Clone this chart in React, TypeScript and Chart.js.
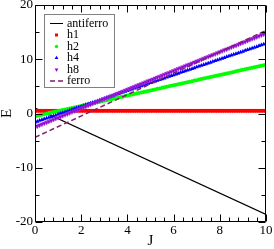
import React, { useEffect, useRef } from "react";
import { Chart, registerables } from "chart.js";

Chart.register(...registerables);

const J = [0,0.1,0.2,0.3,0.4,0.5,0.6,0.7,0.8,0.9,1,1.1,1.2,1.3,1.4,1.5,1.6,1.7,1.8,1.9,2,2.1,2.2,2.3,2.4,2.5,2.6,2.7,2.8,2.9,3,3.1,3.2,3.3,3.4,3.5,3.6,3.7,3.8,3.9,4,4.1,4.2,4.3,4.4,4.5,4.6,4.7,4.8,4.9,5,5.1,5.2,5.3,5.4,5.5,5.6,5.7,5.8,5.9,6,6.1,6.2,6.3,6.4,6.5,6.6,6.7,6.8,6.9,7,7.1,7.2,7.3,7.4,7.5,7.6,7.7,7.8,7.9,8,8.1,8.2,8.3,8.4,8.5,8.6,8.7,8.8,8.9,9,9.1,9.2,9.3,9.4,9.5,9.6,9.7,9.8,9.9,10];

const h1 = [0.5,0.5,0.5,0.5,0.5,0.5,0.5,0.5,0.5,0.5,0.5,0.5,0.5,0.5,0.5,0.5,0.5,0.5,0.5,0.5,0.5,0.5,0.5,0.5,0.5,0.5,0.5,0.5,0.5,0.5,0.5,0.5,0.5,0.5,0.5,0.5,0.5,0.5,0.5,0.5,0.5,0.5,0.5,0.5,0.5,0.5,0.5,0.5,0.5,0.5,0.5,0.5,0.5,0.5,0.5,0.5,0.5,0.5,0.5,0.5,0.5,0.5,0.5,0.5,0.5,0.5,0.5,0.5,0.5,0.5,0.5,0.5,0.5,0.5,0.5,0.5,0.5,0.5,0.5,0.5,0.5,0.5,0.5,0.5,0.5,0.5,0.5,0.5,0.5,0.5,0.5,0.5,0.5,0.5,0.5,0.5,0.5,0.5,0.5,0.5,0.5];

const h2 = [-0.5,-0.41,-0.31,-0.22,-0.12,-0.03,0.07,0.17,0.26,0.36,0.45,0.55,0.64,0.74,0.83,0.93,1.02,1.12,1.21,1.31,1.4,1.5,1.59,1.69,1.78,1.88,1.97,2.07,2.16,2.26,2.35,2.45,2.54,2.64,2.73,2.83,2.92,3.02,3.11,3.21,3.3,3.4,3.49,3.59,3.68,3.78,3.87,3.97,4.06,4.16,4.25,4.35,4.44,4.54,4.63,4.73,4.82,4.92,5.01,5.11,5.2,5.3,5.39,5.49,5.58,5.68,5.77,5.87,5.96,6.06,6.15,6.25,6.34,6.44,6.53,6.63,6.72,6.82,6.91,7.01,7.1,7.2,7.29,7.39,7.48,7.58,7.67,7.77,7.86,7.96,8.05,8.15,8.24,8.34,8.43,8.53,8.62,8.72,8.81,8.91,9.0];

const h4 = [-1.6,-1.46,-1.31,-1.17,-1.02,-0.88,-0.73,-0.59,-0.44,-0.3,-0.15,-0.01,0.14,0.29,0.43,0.58,0.72,0.87,1.01,1.16,1.3,1.45,1.59,1.74,1.88,2.03,2.17,2.32,2.46,2.61,2.75,2.9,3.04,3.19,3.33,3.48,3.62,3.77,3.91,4.06,4.2,4.35,4.49,4.64,4.78,4.93,5.07,5.22,5.36,5.51,5.65,5.8,5.94,6.09,6.23,6.38,6.52,6.67,6.81,6.96,7.1,7.25,7.39,7.54,7.68,7.83,7.97,8.12,8.26,8.41,8.55,8.7,8.84,8.99,9.13,9.28,9.42,9.57,9.71,9.86,10.0,10.15,10.29,10.44,10.58,10.73,10.87,11.02,11.16,11.31,11.45,11.6,11.74,11.89,12.03,12.18,12.32,12.47,12.61,12.76,12.9];

const h8 = [-2.5,-2.33,-2.15,-1.98,-1.81,-1.64,-1.46,-1.29,-1.12,-0.94,-0.77,-0.6,-0.42,-0.25,-0.08,0.1,0.27,0.44,0.61,0.79,0.96,1.13,1.31,1.48,1.65,1.83,2.0,2.17,2.34,2.52,2.69,2.86,3.04,3.21,3.38,3.56,3.73,3.9,4.07,4.25,4.42,4.59,4.77,4.94,5.11,5.29,5.46,5.63,5.8,5.98,6.15,6.32,6.5,6.67,6.84,7.02,7.19,7.36,7.53,7.71,7.88,8.05,8.23,8.4,8.57,8.75,8.92,9.09,9.26,9.44,9.61,9.78,9.96,10.13,10.3,10.48,10.65,10.82,10.99,11.17,11.34,11.51,11.69,11.86,12.03,12.21,12.38,12.55,12.72,12.9,13.07,13.24,13.42,13.59,13.76,13.94,14.11,14.28,14.45,14.63,14.8];

const antiferroJ = [0, 10];
const antiferroE = [1.0, -18.6];
const ferroJ = [0, 10];
const ferroE = [-4.4, 15.3];

const xTicks = [0, 2, 4, 6, 8, 10];
const yTicks = [-20, -10, 0, 10, 20];
const xMinorStep = 0.4;
const yMinorStep = 5;

const legendLabels = ["antiferro", "h1", "h2", "h4", "h8", "ferro"];

const SERIF = '"Liberation Serif", "DejaVu Serif", serif';
const C_RED = "#ff0000";
const C_GREEN = "#00ff00";
const C_BLUE = "#0000ff";
const C_VIOLET = "#9400d3";
const C_VIOLET_EDGE = "rgba(160, 60, 220, 0.55)";
const C_FERRO = "#80206e";

const pts = (xs: number[], ys: number[]) => xs.map((x, i) => ({ x, y: ys[i] }));

const framePlugin = {
  id: "frameTicks",
  afterDatasetsDraw(chart: any) {
    const { ctx, chartArea: a } = chart;
    const xs = chart.scales.x;
    const ys = chart.scales.y;
    const L = Math.round(a.left) + 0.5;
    const R = Math.round(a.right) - 0.5;
    const T = Math.round(a.top) + 0.5;
    const B = Math.round(a.bottom) - 0.5;
    const major = 7;
    const minor = 4;
    ctx.save();
    ctx.strokeStyle = "#000";
    ctx.lineWidth = 1;
    ctx.beginPath();
    const nx = Math.round((xs.max - xs.min) / xMinorStep);
    for (let i = 0; i <= nx; i++) {
      const v = xs.min + i * xMinorStep;
      const px = Math.round(xs.getPixelForValue(v)) + 0.5;
      const len = xTicks.some((t) => Math.abs(t - v) < 1e-6) ? major : minor;
      ctx.moveTo(px, B);
      ctx.lineTo(px, B - len);
      ctx.moveTo(px, T);
      ctx.lineTo(px, T + len);
    }
    const ny = Math.round((ys.max - ys.min) / yMinorStep);
    for (let i = 0; i <= ny; i++) {
      const v = ys.min + i * yMinorStep;
      const py = Math.round(ys.getPixelForValue(v)) + 0.5;
      const len = yTicks.some((t) => Math.abs(t - v) < 1e-6) ? major : minor;
      ctx.moveTo(L, py);
      ctx.lineTo(L + len, py);
      ctx.moveTo(R, py);
      ctx.lineTo(R - len, py);
    }
    ctx.rect(L, T, R - L, B - T);
    ctx.stroke();
    ctx.restore();
  },
  afterDraw(chart: any) {
    const { ctx } = chart;
    const bx = 44.5, by = 14.5, bw = 70, bh = 73;
    ctx.save();
    ctx.fillStyle = "#fff";
    ctx.fillRect(bx, by, bw, bh);
    ctx.strokeStyle = "#808080";
    ctx.lineWidth = 1;
    ctx.strokeRect(bx, by, bw, bh);
    const x0 = 50, x1 = 63, xm = 56.5, tx = 67;
    ctx.font = "12px " + SERIF;
    ctx.textBaseline = "middle";
    ctx.textAlign = "left";
    legendLabels.forEach((lab, i) => {
      const y = 23.5 + i * 11.5;
      ctx.save();
      if (i === 0) {
        ctx.strokeStyle = "#000";
        ctx.lineWidth = 1;
        ctx.beginPath();
        ctx.moveTo(x0, y);
        ctx.lineTo(x1, y);
        ctx.stroke();
      } else if (i === 5) {
        ctx.strokeStyle = C_FERRO;
        ctx.lineWidth = 1.5;
        ctx.setLineDash([5, 3]);
        ctx.beginPath();
        ctx.moveTo(x0, y);
        ctx.lineTo(x1 + 1, y);
        ctx.stroke();
      } else if (i === 1) {
        ctx.fillStyle = C_RED;
        ctx.fillRect(xm - 1.5, y - 1.5, 3, 3);
      } else if (i === 2) {
        ctx.fillStyle = C_GREEN;
        ctx.beginPath();
        ctx.arc(xm, y, 1.7, 0, Math.PI * 2);
        ctx.fill();
      } else if (i === 3) {
        ctx.fillStyle = C_BLUE;
        ctx.beginPath();
        ctx.moveTo(xm, y - 2.2);
        ctx.lineTo(xm + 1.9, y + 1.1);
        ctx.lineTo(xm - 1.9, y + 1.1);
        ctx.closePath();
        ctx.fill();
      } else if (i === 4) {
        ctx.fillStyle = C_VIOLET;
        ctx.beginPath();
        ctx.moveTo(xm, y + 2.2);
        ctx.lineTo(xm + 1.9, y - 1.1);
        ctx.lineTo(xm - 1.9, y - 1.1);
        ctx.closePath();
        ctx.fill();
      }
      ctx.restore();
      ctx.fillStyle = "#000";
      ctx.fillText(lab, tx, y);
    });
    ctx.restore();
  },
};

export default function App() {
  const ref = useRef<HTMLCanvasElement | null>(null);

  useEffect(() => {
    if (!ref.current) return;
    const chart = new Chart(ref.current, {
      type: "line",
      data: {
        datasets: [
          {
            label: "antiferro",
            data: pts(antiferroJ, antiferroE),
            borderColor: "#000",
            borderWidth: 1.2,
            pointRadius: 0,
            fill: false,
            order: 5,
          },
          {
            label: "h1",
            data: pts(J, h1),
            showLine: false,
            pointStyle: "rect",
            pointRadius: 2.6,
            pointBorderWidth: 0,
            pointBackgroundColor: C_RED,
            borderColor: C_RED,
            order: 4,
          },
          {
            label: "h2",
            data: pts(J, h2),
            showLine: false,
            pointStyle: "circle",
            pointRadius: 2,
            pointBorderWidth: 0,
            pointBackgroundColor: C_GREEN,
            borderColor: C_GREEN,
            order: 3,
          },
          {
            label: "h4",
            data: pts(J, h4),
            showLine: false,
            pointStyle: "triangle",
            pointRadius: 2.5,
            pointBorderWidth: 0,
            pointBackgroundColor: C_BLUE,
            borderColor: C_BLUE,
            order: 2,
          },
          {
            label: "h8",
            data: pts(J, h8),
            showLine: false,
            pointStyle: "triangle",
            pointRotation: 180,
            pointRadius: 2.5,
            pointBorderWidth: 1,
            pointBorderColor: C_VIOLET_EDGE,
            pointBackgroundColor: C_VIOLET,
            borderColor: C_VIOLET,
            order: 1,
          },
          {
            label: "ferro",
            data: pts(ferroJ, ferroE),
            borderColor: C_FERRO,
            borderWidth: 1.5,
            borderDash: [5, 3],
            pointRadius: 0,
            fill: false,
            order: 0,
          },
        ],
      },
      options: {
        responsive: false,
        animation: false,
        devicePixelRatio: 1,
        layout: { padding: { left: 0, top: 5, right: 8, bottom: 0 } },
        plugins: { legend: { display: false }, tooltip: { enabled: false } },
        scales: {
          x: {
            type: "linear",
            min: 0,
            max: 10,
            grid: { display: false, drawTicks: false },
            border: { display: false },
            afterBuildTicks: (s: any) => {
              s.ticks = xTicks.map((v) => ({ value: v }));
            },
            afterFit: (s: any) => {
              s.height = 27;
              s.paddingLeft = 0;
              s.paddingRight = 0;
            },
            ticks: {
              color: "#000",
              padding: 1,
              maxRotation: 0,
              autoSkip: false,
              font: { family: SERIF, size: 13 },
            },
            title: {
              display: true,
              text: "J",
              color: "#000",
              padding: 0,
              font: { family: SERIF, size: 15, lineHeight: 1 },
            },
          },
          y: {
            type: "linear",
            min: -20,
            max: 20,
            grid: { display: false, drawTicks: false },
            border: { display: false },
            afterBuildTicks: (s: any) => {
              s.ticks = yTicks.map((v) => ({ value: v }));
            },
            afterFit: (s: any) => {
              s.width = 35;
              s.paddingTop = 0;
              s.paddingBottom = 0;
            },
            ticks: {
              color: "#000",
              padding: 2,
              autoSkip: false,
              font: { family: SERIF, size: 13 },
            },
            title: {
              display: true,
              text: "E",
              color: "#000",
              padding: 0,
              font: { family: SERIF, size: 15, lineHeight: 1 },
            },
          },
        },
      },
      plugins: [framePlugin],
    } as any);
    return () => chart.destroy();
  }, []);

  return (
    <div style={{ position: "absolute", left: 0, top: 0, width: 274, height: 249, background: "#fff" }}>
      <canvas ref={ref} width={274} height={249} style={{ display: "block", width: 274, height: 249 }} />
    </div>
  );
}
